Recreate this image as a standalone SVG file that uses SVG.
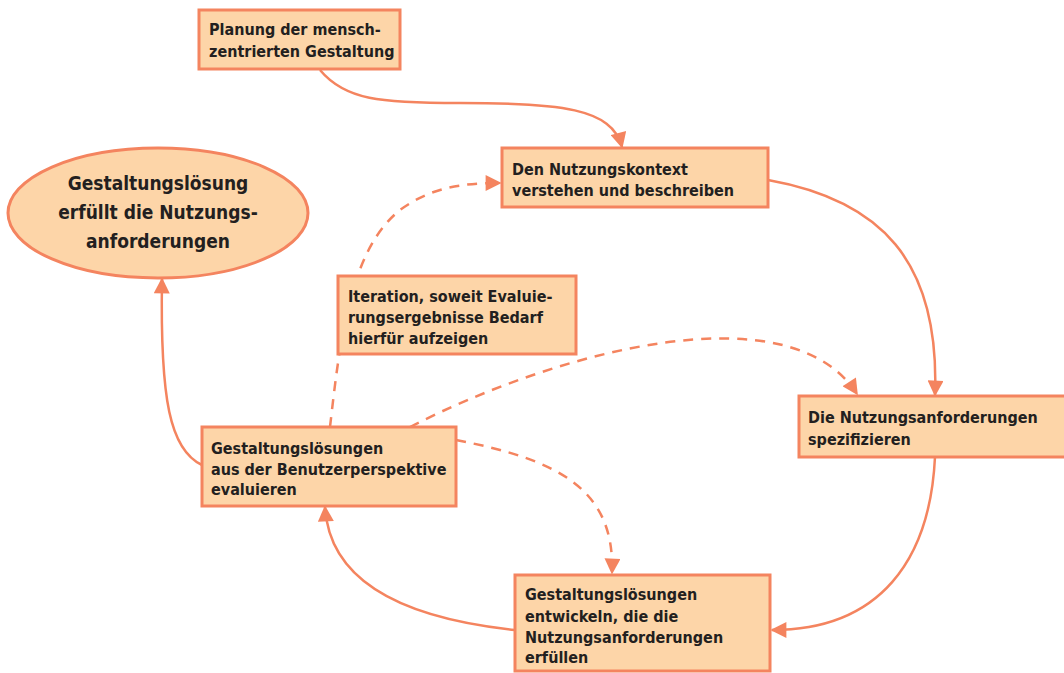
<svg xmlns="http://www.w3.org/2000/svg" width="1064" height="673" viewBox="0 0 1064 673">
<style>
.box{fill:#FDD5A8;stroke:#F4845F;stroke-width:3}
.t{font-family:"DejaVu Sans Condensed","Liberation Sans Narrow","Liberation Sans",sans-serif;font-weight:bold;font-size:16px;fill:#231F20}
.te{font-family:"DejaVu Sans Condensed","Liberation Sans Narrow","Liberation Sans",sans-serif;font-weight:bold;font-size:19px;fill:#231F20;text-anchor:middle}
.c{fill:none;stroke:#F4845F;stroke-width:2.5}
.d{fill:none;stroke:#F4845F;stroke-width:2.5;stroke-dasharray:10 8}
</style>
<defs>
<marker id="ah" viewBox="0 0 10 10" refX="9" refY="5" markerWidth="18" markerHeight="16" markerUnits="userSpaceOnUse" orient="auto">
<path d="M0,0 L10,5 L0,10 Z" fill="#F4845F"/>
</marker>
</defs>
<g id="connectors">
<path class="c" d="M320,70 C345,100 380,103 460,103 C560,103 612,108 622,147" marker-end="url(#ah)"/>
<path class="c" d="M768,180 C880,200 940,260 935,395" marker-end="url(#ah)"/>
<path class="c" d="M935,457 C930,560 880,630 772,630" marker-end="url(#ah)"/>
<path class="c" d="M515,630 C420,620 330,590 325,507" marker-end="url(#ah)"/>
<path class="c" d="M202,465 C170,450 160,400 162,279" marker-end="url(#ah)"/>
<path class="d" d="M330,427 C340,340 350,250 400,210 C430,188 460,183 500,183" marker-end="url(#ah)"/>
<path class="d" d="M410,427 C560,350 790,290 857,394" marker-end="url(#ah)"/>
<path class="d" d="M456,440 C560,460 615,490 612,573" marker-end="url(#ah)"/>
</g>
<g id="n-planung">
<rect class="box" x="199" y="10" width="201" height="59"/>
<text class="t" x="209" y="35">Planung der mensch-</text>
<text class="t" x="209" y="57">zentrierten Gestaltung</text>
</g>
<g id="n-kontext">
<rect class="box" x="502" y="148" width="266" height="59"/>
<text class="t" x="512" y="175">Den Nutzungskontext</text>
<text class="t" x="512" y="196">verstehen und beschreiben</text>
</g>
<g id="n-ziel">
<ellipse class="box" cx="158" cy="213" rx="150" ry="65"/>
<text class="te" x="158" y="190">Gestaltungslösung</text>
<text class="te" x="158" y="219">erfüllt die Nutzungs-</text>
<text class="te" x="158" y="248">anforderungen</text>
</g>
<g id="n-iteration">
<rect class="box" x="338" y="276" width="238" height="78"/>
<text class="t" x="348" y="302">Iteration, soweit Evaluie-</text>
<text class="t" x="348" y="323">rungsergebnisse Bedarf</text>
<text class="t" x="348" y="344">hierfür aufzeigen</text>
</g>
<g id="n-evaluieren">
<rect class="box" x="202" y="427" width="254" height="79"/>
<text class="t" x="211" y="454">Gestaltungslösungen</text>
<text class="t" x="211" y="475">aus der Benutzerperspektive</text>
<text class="t" x="211" y="495">evaluieren</text>
</g>
<g id="n-spezifizieren">
<rect class="box" x="799" y="396" width="270" height="61"/>
<text class="t" x="808" y="423">Die Nutzungsanforderungen</text>
<text class="t" x="808" y="445">spezifizieren</text>
</g>
<g id="n-entwickeln">
<rect class="box" x="515" y="575" width="255" height="96"/>
<text class="t" x="525" y="600">Gestaltungslösungen</text>
<text class="t" x="525" y="622">entwickeln, die die</text>
<text class="t" x="525" y="643">Nutzungsanforderungen</text>
<text class="t" x="525" y="663">erfüllen</text>
</g>
</svg>
